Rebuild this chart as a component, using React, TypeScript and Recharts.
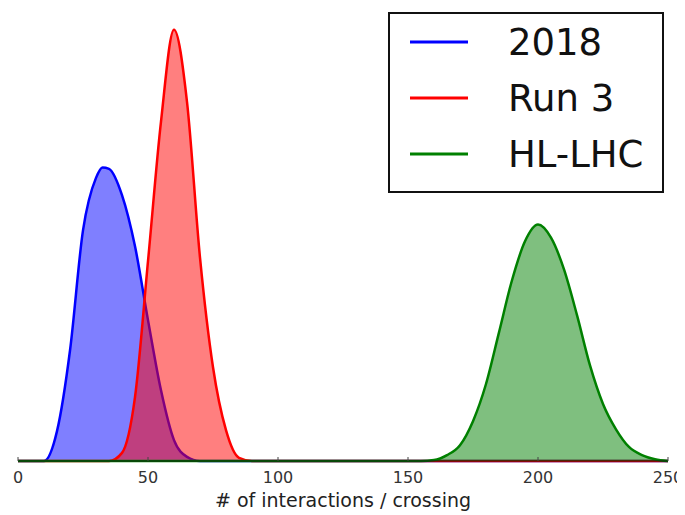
import { Area, AreaChart, Legend, XAxis, YAxis } from "recharts";

// pile-up distributions, heights (relative units, plot top = 1)
const xs = [
  0, 5, 10, 15, 20, 25, 30, 32.5, 35, 40, 45, 50, 55, 60, 65, 70, 75, 80, 85, 90,
  95, 100, 105, 110, 115, 120, 125, 130, 135, 140, 145, 150, 155, 160, 165, 170,
  175, 180, 185, 190, 195, 200, 205, 210, 215, 220, 225, 230, 235, 240, 245, 250,
];

const run2018 = [
  0, 0, 0, 0.066, 0.244, 0.509, 0.625, 0.648, 0.645, 0.587, 0.474, 0.311, 0.156,
  0.046, 0.009, 0, 0, 0, 0, 0, 0, 0, 0, 0, 0, 0, 0, 0, 0, 0, 0, 0, 0, 0, 0, 0,
  0, 0, 0, 0, 0, 0, 0, 0, 0, 0, 0, 0, 0, 0, 0, 0,
];

const run3 = [
  0, 0, 0, 0, 0, 0, 0, 0, 0, 0.018, 0.141, 0.441, 0.749, 0.952, 0.793, 0.449,
  0.207, 0.068, 0.007, 0, 0, 0, 0, 0, 0, 0, 0, 0, 0, 0, 0, 0, 0, 0, 0, 0, 0, 0,
  0, 0, 0, 0, 0, 0, 0, 0, 0, 0, 0, 0, 0, 0,
];

const hlLhc = [
  0, 0, 0, 0, 0, 0, 0, 0, 0, 0, 0, 0, 0, 0, 0, 0, 0, 0, 0, 0, 0, 0, 0, 0, 0, 0,
  0, 0, 0, 0, 0, 0, 0, 0.002, 0.013, 0.035, 0.088, 0.17, 0.284, 0.399, 0.485,
  0.522, 0.493, 0.423, 0.322, 0.211, 0.126, 0.07, 0.031, 0.013, 0.004, 0,
];

const xTicks = [0, 50, 100, 150, 200, 250];
const legendOrder = ["2018", "Run 3", "HL-LHC"];

const data = xs.map((x, i) => ({
  x,
  y2018: run2018[i],
  run3: run3[i],
  hllhc: hlLhc[i],
}));

const FONT = "'DejaVu Sans', sans-serif";

function InTick(props: any) {
  const { x, y, payload } = props;
  return (
    <g>
      <line x1={x} y1={y} x2={x} y2={y - 4} stroke="#444" strokeWidth={1} />
      <text
        x={x}
        y={y + 22}
        textAnchor="middle"
        fontSize={16}
        fontFamily={FONT}
        fill="#333"
      >
        {payload.value}
      </text>
    </g>
  );
}

function BoxLegend(props: any) {
  const items = [...(props.payload || [])].sort(
    (a: any, b: any) => legendOrder.indexOf(a.value) - legendOrder.indexOf(b.value)
  );
  return (
    <svg width={276} height={181} style={{ display: "block" }}>
      <rect x={1} y={1} width={274} height={179} fill="#fff" stroke="#111" strokeWidth={2} />
      {items.map((it: any, i: number) => {
        const cy = 30 + i * 56;
        return (
          <g key={it.value}>
            <line x1={22} y1={cy} x2={80} y2={cy} stroke={it.color} strokeWidth={3} />
            <text x={120} y={cy + 13} fontSize={37} fontFamily={FONT} fill="#111">
              {it.value}
            </text>
          </g>
        );
      })}
    </svg>
  );
}

export default function App() {
  return (
    <AreaChart
      width={677}
      height={505}
      data={data}
      margin={{ top: 0, right: 17, left: 10, bottom: 0 }}
    >
      <XAxis
        dataKey="x"
        type="number"
        domain={[0, 250]}
        ticks={xTicks}
        tickSize={0}
        tickMargin={0}
        tickLine={false}
        tick={<InTick />}
        height={52}
        axisLine={{ stroke: "#111", strokeWidth: 1 }}
        label={{
          value: "# of interactions / crossing",
          position: "insideBottom",
          offset: 6,
          fontSize: 19,
          fontFamily: FONT,
          fill: "#222",
        }}
      />
      <YAxis hide domain={[0, 1]} />
      <Legend
        layout="vertical"
        align="center"
        verticalAlign="middle"
        content={<BoxLegend />}
        wrapperStyle={{ position: "absolute", left: 380, top: 4, width: 276, height: 181 }}
      />
      <Area
        type="monotone"
        dataKey="y2018"
        name="2018"
        stroke="#0000ff"
        strokeWidth={2.5}
        fill="#0000ff"
        fillOpacity={0.5}
        dot={false}
        activeDot={false}
        isAnimationActive={false}
      />
      <Area
        type="monotone"
        dataKey="run3"
        name="Run 3"
        stroke="#ff0000"
        strokeWidth={2.5}
        fill="#ff0000"
        fillOpacity={0.5}
        dot={false}
        activeDot={false}
        isAnimationActive={false}
      />
      <Area
        type="monotone"
        dataKey="hllhc"
        name="HL-LHC"
        stroke="#008000"
        strokeWidth={2.5}
        fill="#008000"
        fillOpacity={0.5}
        dot={false}
        activeDot={false}
        isAnimationActive={false}
      />
    </AreaChart>
  );
}
